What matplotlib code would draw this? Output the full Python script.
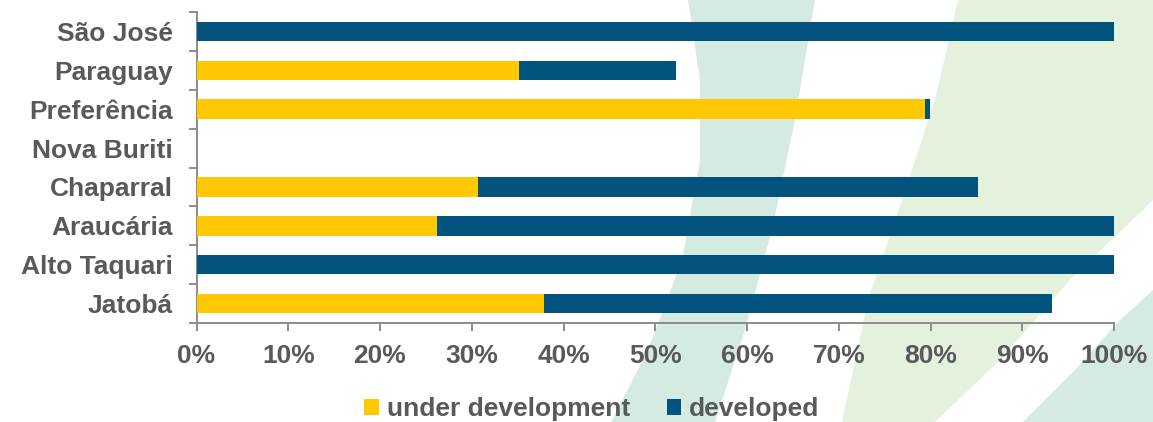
import matplotlib
matplotlib.use("Agg")
import matplotlib.pyplot as plt
from matplotlib.patches import Polygon
from matplotlib.ticker import FixedLocator, FuncFormatter

# ---- data ----
categories = ["São José", "Paraguay", "Preferência", "Nova Buriti",
              "Chaparral", "Araucária", "Alto Taquari", "Jatobá"]
under_development = [0.0, 35.2, 79.4, 0.0, 30.7, 26.2, 0.0, 37.9]
developed = [100.0, 17.1, 0.5, 0.0, 54.5, 73.8, 100.0, 55.3]
series_names = ["under development", "developed"]
x_ticks = [0, 10, 20, 30, 40, 50, 60, 70, 80, 90, 100]

YELLOW = "#FFC800"
BLUE = "#02547F"
TEXT = "#595959"
SPINE = "#8C8C8C"
TEAL = "#D5EBE2"
LGREEN = "#E3F1DD"

plt.rcParams['font.family'] = ['Liberation Sans', 'DejaVu Sans']
plt.rcParams['font.weight'] = 'bold'

W, H = 1153, 422
fig = plt.figure(figsize=(W / 100, H / 100), dpi=100)
fig.patch.set_facecolor("white")


def px(points):
    return [(x / W, 1 - y / H) for x, y in points]


# decorative background shapes (pixel coordinates, y down)
bg_shapes = [
    (TEAL, [(688, 0), (700, 80), (700, 160), (682, 260), (648, 350), (611, 422),
            (715, 422), (745, 330), (772, 230), (795, 120), (815, 0)]),
    (LGREEN, [(958, 0), (935, 100), (902, 200), (868, 300), (842, 422),
              (935, 422), (1000, 360), (1070, 280), (1153, 200), (1153, 0)]),
    (TEAL, [(1023, 422), (1075, 370), (1120, 320), (1153, 290), (1153, 422)]),
]
for color, pts in bg_shapes:
    fig.patches.append(Polygon(px(pts), closed=True, transform=fig.transFigure,
                               facecolor=color, edgecolor="none", zorder=-5))

ax = fig.add_axes([196.5 / W, 1 - 323 / H, (1114 - 196.5) / W, (323 - 12) / H])
ax.set_facecolor("none")
ax.set_zorder(2)

y = list(range(len(categories)))
ax.barh(y, under_development, height=0.5, color=YELLOW, label=series_names[0], zorder=3)
ax.barh(y, developed, left=under_development, height=0.5, color=BLUE,
        label=series_names[1], zorder=3)

ax.set_xlim(0, 100)
ax.set_ylim(len(categories) - 0.5, -0.5)

ax.set_yticks(y)
ax.set_yticklabels(categories)
ax.yaxis.set_minor_locator(FixedLocator([i - 0.5 for i in range(len(categories) + 1)]))
ax.tick_params(axis='y', which='major', length=0, pad=17, labelsize=19, labelcolor=TEXT)
ax.tick_params(axis='y', which='minor', length=6, width=1.4, color=SPINE, direction='out')

ax.set_xticks(x_ticks)
ax.xaxis.set_major_formatter(FuncFormatter(lambda v, p: f"{v:.0f}%"))
ax.tick_params(axis='x', which='major', length=6, width=1.4, color=SPINE,
               direction='out', pad=9, labelsize=19, labelcolor=TEXT)

for s in ["top", "right"]:
    ax.spines[s].set_visible(False)
for s in ["left", "bottom"]:
    ax.spines[s].set_color(SPINE)
    ax.spines[s].set_linewidth(1.4)

handles, labels = ax.get_legend_handles_labels()
leg = fig.legend(handles, labels, loc='center', bbox_to_anchor=(592 / W, 1 - 409 / H),
                 ncol=2, frameon=False, fontsize=19, handlelength=0.55, handleheight=0.55,
                 handletextpad=0.3, columnspacing=1.4, borderpad=0, borderaxespad=0)
for t in leg.get_texts():
    t.set_color(TEXT)

fig.savefig("out.png", dpi=100)
